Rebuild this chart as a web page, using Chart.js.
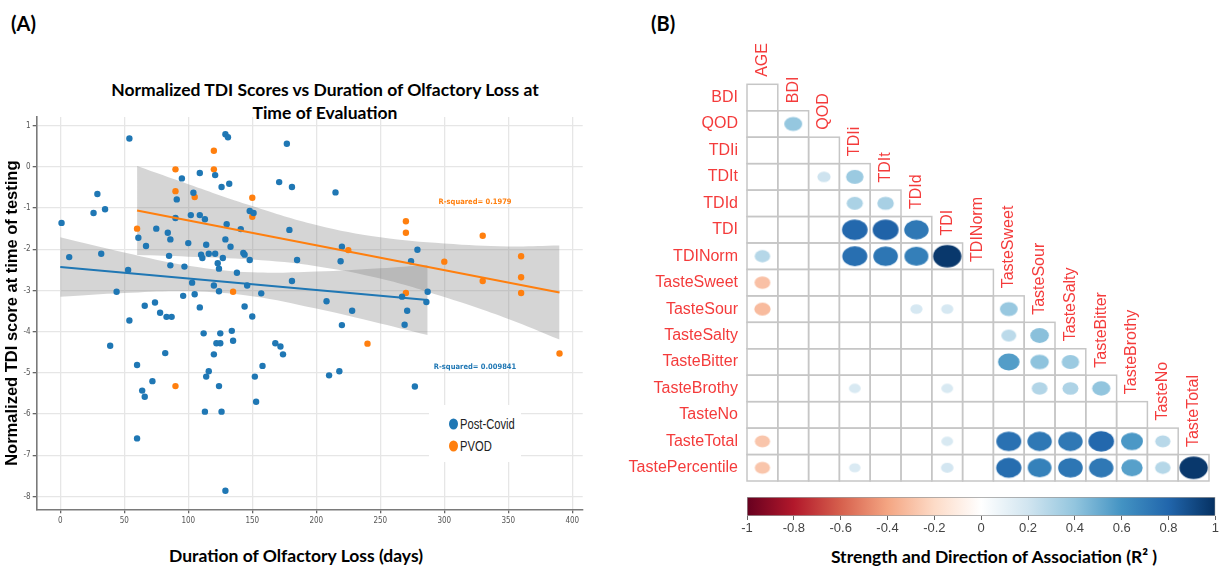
<!DOCTYPE html>
<html>
<head>
<meta charset="utf-8">
<script src="https://cdn.jsdelivr.net/npm/chart.js@4.4.0/dist/chart.umd.min.js"></script>
<style>
  html, body { margin: 0; padding: 0; background: #fff; }
  #wrap { position: relative; width: 1220px; height: 566px; overflow: hidden; }
  canvas { position: absolute; }
  .txt { position: absolute; white-space: nowrap; font-family: Lato, "Open Sans", sans-serif; font-weight: bold; color: #000; transform: translate(-50%, -50%); }
  .panel { position: absolute; font-family: Lato, "Open Sans", sans-serif; font-weight: bold; font-size: 20px; color: #000; transform: translateY(-50%); }
  #legend { position: absolute; left: 429px; top: 405px; width: 92px; height: 57px; background: #fff; }
  #legend .row { position: absolute; left: 31px; white-space: nowrap; font-family: "Liberation Sans", Arial, sans-serif; font-size: 14px; color: #222; transform: translateY(-50%) scaleX(0.8); transform-origin: left center; }
  #legend .dot { position: absolute; width: 9px; height: 11px; border-radius: 50%; left: 20px; transform: translateY(-50%); }
</style>
</head>
<body>
<div id="wrap">
  <div class="panel" style="left:11px;top:23px;">(A)</div>
  <div class="panel" style="left:651px;top:23px;">(B)</div>
  <div class="txt" style="left:325px;top:89px;font-size:17.5px;">Normalized TDI Scores vs Duration of Olfactory Loss at</div>
  <div class="txt" style="left:325px;top:112px;font-size:17.5px;">Time of Evaluation</div>
  <div class="txt" style="left:296px;top:555px;font-size:17.5px;">Duration of Olfactory Loss (days)</div>
  <div class="txt" style="left:994px;top:556px;font-size:17.5px;">Strength and Direction of Association (R² )</div>

  <canvas id="scatter" width="600" height="566" style="left:0;top:0;"></canvas>
  <div id="legend">
    <span class="dot" style="background:#1f77b4;top:19px;"></span>
    <div class="row" style="top:19px;">Post-Covid</div>
    <span class="dot" style="background:#ff7f0e;top:41px;"></span>
    <div class="row" style="top:41px;">PVOD</div>
  </div>
  <canvas id="corr" width="600" height="492" style="left:620px;top:0;"></canvas>
  <canvas id="cbar" width="480" height="76" style="left:740px;top:490px;"></canvas>
</div>

<script>
// ---- panel A data ----
const covidDays = [1, 54, 129, 131, 177, 95, 109, 121, 126, 132, 171, 181, 215, 29, 26, 35, 91, 104, 90, 102,
  109, 113, 130, 141, 148, 151, 179, 75, 84, 86, 61, 67, 100, 129, 114, 133, 220, 279, 7, 32,
  85, 110, 111, 116, 121, 127, 143, 144, 148, 185, 219, 274, 53, 86, 97, 123, 124, 138, 103, 120,
  146, 181, 44, 105, 124, 157, 96, 208, 267, 287, 286, 66, 74, 109, 144, 228, 271, 78, 83, 87,
  150, 54, 134, 112, 125, 220, 269, 135, 122, 125, 39, 168, 172, 174, 82, 120, 60, 158, 116, 114,
  152, 210, 218, 72, 124, 277, 64, 66, 153, 113, 126, 60, 129];
const covidScores = [-1.36, 0.69, 0.79, 0.72, 0.56, -0.28, -0.15, -0.20, -0.49, -0.41, -0.37, -0.49, -0.62, -0.66, -1.12, -1.03, -0.79, -0.63, -1.24, -1.17,
  -1.17, -1.27, -1.39, -1.51, -1.07, -1.12, -1.53, -1.50, -1.60, -1.76, -1.72, -1.92, -1.85, -1.76, -1.89, -1.94, -1.94, -2.01, -2.19, -2.11,
  -2.16, -2.13, -2.21, -2.11, -2.11, -2.21, -2.09, -2.13, -2.26, -2.26, -2.29, -2.29, -2.50, -2.39, -2.42, -2.34, -2.47, -2.57, -2.81, -2.88,
  -2.88, -2.77, -3.03, -3.09, -3.02, -3.07, -3.13, -3.26, -3.15, -3.03, -3.28, -3.37, -3.29, -3.41, -3.39, -3.49, -3.49, -3.54, -3.64, -3.64,
  -3.63, -3.73, -3.98, -4.04, -4.04, -3.84, -3.83, -4.22, -4.28, -4.28, -4.34, -4.28, -4.36, -4.55, -4.52, -4.55, -4.81, -4.83, -4.96, -5.09,
  -5.09, -5.06, -4.96, -5.20, -5.32, -5.33, -5.43, -5.58, -5.70, -5.94, -5.94, -6.59, -7.86];

const pvodDays = [120, 90, 120, 90, 105, 150, 150, 60, 270, 270, 330, 225, 300, 360, 330, 360, 360, 270, 135, 240, 390, 90];
const pvodScores = [0.39, -0.06, -0.06, -0.59, -0.73, -0.75, -1.21, -1.50, -1.32, -1.60, -1.67, -2.02, -2.30, -2.17, -2.77, -2.68, -3.06, -3.06, -3.03, -4.29, -4.53, -5.32];

const covidFitDays = [0, 287];
const covidFit = [-2.43, -3.23];
const covidBandDays = [0, 50, 100, 150, 200, 250, 287];
const covidBandUpper = [-1.71, -2.08, -2.40, -2.56, -2.54, -2.46, -2.38];
const covidBandLower = [-3.15, -3.06, -3.02, -3.14, -3.44, -3.80, -4.08];

const pvodFitDays = [60, 390];
const pvodFit = [-1.06, -3.05];
const pvodBandDays = [60, 100, 150, 200, 250, 300, 350, 390];
const pvodBandUpper = [0.02, -0.42, -0.95, -1.41, -1.71, -1.86, -1.93, -1.91];
const pvodBandLower = [-2.14, -2.18, -2.25, -2.41, -2.71, -3.16, -3.69, -4.19];

const xTicks = [0, 50, 100, 150, 200, 250, 300, 350, 400];
const yTicks = [-8, -7, -6, -5, -4, -3, -2, -1, 0, 1];

const covidRsq = { text: 'R-squared= 0.009841', day: 324, score: -4.85 };
const pvodRsq = { text: 'R-squared= 0.1979', day: 324, score: -0.86 };

// ---- panel B data ----
const rowLabels = ['BDI', 'QOD', 'TDIi', 'TDIt', 'TDId', 'TDI', 'TDINorm', 'TasteSweet', 'TasteSour',
  'TasteSalty', 'TasteBitter', 'TasteBrothy', 'TasteNo', 'TasteTotal', 'TastePercentile'];
const colLabels = ['AGE', 'BDI', 'QOD', 'TDIi', 'TDIt', 'TDId', 'TDI', 'TDINorm', 'TasteSweet',
  'TasteSour', 'TasteSalty', 'TasteBitter', 'TasteBrothy', 'TasteNo', 'TasteTotal'];
// lower triangle, row i has columns 0..i; 0 = not shown
const corrMatrix = [
  [0],
  [0, 0.39],
  [0, 0, 0],
  [0, 0, 0.21, 0.37],
  [0, 0, 0, 0.32, 0.33],
  [0, 0, 0, 0.79, 0.81, 0.72],
  [0.29, 0, 0, 0.76, 0.73, 0.69, 0.97],
  [-0.30, 0, 0, 0, 0, 0, 0, 0],
  [-0.32, 0, 0, 0, 0, 0.18, 0.18, 0, 0.38],
  [0, 0, 0, 0, 0, 0, 0, 0, 0.27, 0.42],
  [0, 0, 0, 0, 0, 0, 0, 0, 0.56, 0.41, 0.37],
  [0, 0, 0, 0.17, 0, 0, 0.17, 0, 0, 0.30, 0.31, 0.40],
  [0, 0, 0, 0, 0, 0, 0, 0, 0, 0, 0, 0, 0],
  [-0.28, 0, 0, 0, 0, 0, 0.17, 0, 0.75, 0.72, 0.72, 0.79, 0.58, 0.28],
  [-0.28, 0, 0, 0.16, 0, 0, 0.19, 0, 0.77, 0.68, 0.73, 0.72, 0.55, 0.29, 0.97]
];
const cbarTicks = [-1, -0.8, -0.6, -0.4, -0.2, 0, 0.2, 0.4, 0.6, 0.8, 1];
const rdbu = ['#67001F', '#B2182B', '#D6604D', '#F4A582', '#FDDBC7', '#FFFFFF',
  '#D1E5F0', '#92C5DE', '#4393C3', '#2166AC', '#053061'];

const BLUE = '#1f77b4';
const ORANGE = '#ff7f0e';
const BAND = 'rgba(127,127,127,0.33)';
const RED_TXT = '#f43b3b';
const NARROW = '"Liberation Sans Narrow", "DejaVu Sans Condensed", sans-serif';
const ARIAL = '"Liberation Sans", Arial, sans-serif';

const toXY = (xs, ys) => xs.map((x, i) => ({ x, y: ys[i] }));

// ---------------- panel A ----------------
const rsqPlugin = {
  id: 'rsq',
  afterDatasetsDraw(chart) {
    const { ctx, scales: { x, y } } = chart;
    ctx.save();
    ctx.font = 'bold 7.5px ' + NARROW;
    ctx.textAlign = 'center';
    ctx.textBaseline = 'middle';
    ctx.fillStyle = ORANGE;
    ctx.fillText(pvodRsq.text, x.getPixelForValue(pvodRsq.day), y.getPixelForValue(pvodRsq.score));
    ctx.fillStyle = BLUE;
    ctx.fillText(covidRsq.text, x.getPixelForValue(covidRsq.day), y.getPixelForValue(covidRsq.score));
    ctx.restore();
  }
};

function bandLine(xs, ys, fill) {
  return {
    type: 'line', data: toXY(xs, ys), borderWidth: 0, pointRadius: 0,
    tension: 0.4, fill: fill, backgroundColor: BAND, order: 5,
  };
}

new Chart(document.getElementById('scatter'), {
  type: 'scatter',
  data: {
    datasets: [
      bandLine(covidBandDays, covidBandUpper, false),
      bandLine(covidBandDays, covidBandLower, '-1'),
      bandLine(pvodBandDays, pvodBandUpper, false),
      bandLine(pvodBandDays, pvodBandLower, '-1'),
      { label: 'Post-Covid', data: toXY(covidDays, covidScores), backgroundColor: BLUE, pointRadius: 3.2, pointBorderWidth: 0, order: 3 },
      { label: 'PVOD', data: toXY(pvodDays, pvodScores), backgroundColor: ORANGE, pointRadius: 3.2, pointBorderWidth: 0, order: 3 },
      { type: 'line', data: toXY(covidFitDays, covidFit), borderColor: BLUE, borderWidth: 2, pointRadius: 0, fill: false, order: 1 },
      { type: 'line', data: toXY(pvodFitDays, pvodFit), borderColor: ORANGE, borderWidth: 2, pointRadius: 0, fill: false, order: 1 },
    ],
  },
  options: {
    responsive: false,
    animation: false,
    layout: { padding: { top: 117, right: 17.3, bottom: 0, left: 0 } },
    plugins: { legend: { display: false }, tooltip: { enabled: false } },
    scales: {
      x: {
        type: 'linear', min: -18.4, max: 408.1,
        afterBuildTicks: s => { s.ticks = xTicks.map(v => ({ value: v })); },
        afterFit: s => { s.height = 56.7; },
        grid: { color: '#e6e6e6', lineWidth: 1.3, tickColor: '#666', tickLength: 4 },
        border: { color: '#7a7a7a', width: 1.6 },
        ticks: { font: { family: NARROW, size: 8 }, color: '#555', padding: 3, maxRotation: 0 },
      },
      y: {
        type: 'linear', min: -8.31, max: 1.21,
        afterBuildTicks: s => { s.ticks = yTicks.map(v => ({ value: v })); },
        afterFit: s => { s.width = 36.7; },
        grid: { color: '#e6e6e6', lineWidth: 1.3, tickColor: '#666', tickLength: 4 },
        border: { color: '#7a7a7a', width: 1.6 },
        ticks: { font: { family: NARROW, size: 8 }, color: '#555', padding: 2 },
        title: {
          display: true, text: 'Normalized TDI score at time of testing', color: '#000',
          font: { family: ARIAL, size: 16.5, weight: 'bold' },
          padding: { top: 2.5, bottom: 0 },
        },
      },
    },
  },
  plugins: [rsqPlugin],
});

// ---------------- panel B ----------------
function hexToRgb(h) {
  return [parseInt(h.slice(1, 3), 16), parseInt(h.slice(3, 5), 16), parseInt(h.slice(5, 7), 16)];
}
function corrColor(v) {
  const t = (v + 1) / 2 * (rdbu.length - 1);
  const i = Math.min(Math.floor(t), rdbu.length - 2);
  const f = t - i;
  const a = hexToRgb(rdbu[i]), b = hexToRgb(rdbu[i + 1]);
  const c = a.map((ch, k) => Math.round(ch + (b[k] - ch) * f));
  return `rgb(${c[0]},${c[1]},${c[2]})`;
}

const styleCache = {};
function bubbleStyle(v) {
  const key = v.toFixed(3);
  if (styleCache[key]) return styleCache[key];
  const s = Math.sqrt(Math.abs(v));
  const rx = 14.4 * s, ry = 11.4 * s;
  const c = document.createElement('canvas');
  c.width = Math.ceil(rx * 2) + 2;
  c.height = Math.ceil(ry * 2) + 2;
  const g = c.getContext('2d');
  g.fillStyle = corrColor(v);
  g.beginPath();
  g.ellipse(c.width / 2, c.height / 2, rx, ry, 0, 0, Math.PI * 2);
  g.fill();
  styleCache[key] = c;
  return c;
}

const corrPoints = [];
corrMatrix.forEach((row, i) => row.forEach((v, j) => {
  if (v !== 0) corrPoints.push({ x: j, y: i, v: v });
}));

const cellsPlugin = {
  id: 'cells',
  beforeDatasetsDraw(chart) {
    const { ctx, scales: { x, y } } = chart;
    ctx.save();
    ctx.strokeStyle = '#c6c6c6';
    ctx.lineWidth = 1.5;
    corrMatrix.forEach((row, i) => row.forEach((v, j) => {
      const x0 = x.getPixelForValue(j - 0.5), x1 = x.getPixelForValue(j + 0.5);
      const y0 = y.getPixelForValue(i - 0.5), y1 = y.getPixelForValue(i + 0.5);
      ctx.strokeRect(x0, y0, x1 - x0, y1 - y0);
    }));
    ctx.restore();
  },
  afterDraw(chart) {
    const { ctx, scales: { x, y } } = chart;
    ctx.save();
    ctx.font = '16px ' + ARIAL;
    ctx.fillStyle = RED_TXT;
    ctx.textAlign = 'left';
    ctx.textBaseline = 'middle';
    colLabels.forEach((lab, j) => {
      ctx.save();
      ctx.translate(x.getPixelForValue(j), y.getPixelForValue(j - 0.5) - 7.5);
      ctx.rotate(-Math.PI / 2);
      ctx.fillText(lab, 0, 0);
      ctx.restore();
    });
    ctx.restore();
  }
};

new Chart(document.getElementById('corr'), {
  type: 'scatter',
  data: {
    datasets: [{
      data: corrPoints,
      pointStyle: ctx => bubbleStyle(ctx.raw.v),
      pointRadius: 10,
    }],
  },
  options: {
    responsive: false,
    animation: false,
    layout: { padding: { top: 84.3, right: 2, bottom: 2.7, left: 0 } },
    plugins: { legend: { display: false }, tooltip: { enabled: false } },
    scales: {
      x: { type: 'linear', min: -0.5, max: 14.5, display: false },
      y: {
        type: 'linear', min: -0.5, max: 14.5, reverse: true,
        afterBuildTicks: s => { s.ticks = rowLabels.map((_, i) => ({ value: i })); },
        afterFit: s => { s.width = 127; },
        grid: { display: false },
        border: { display: false },
        ticks: {
          autoSkip: false, padding: 1, color: RED_TXT,
          font: { family: ARIAL, size: 16 },
          callback: v => rowLabels[v],
        },
      },
    },
  },
  plugins: [cellsPlugin],
});

// ---------------- colour bar ----------------
new Chart(document.getElementById('cbar'), {
  type: 'bar',
  data: {
    labels: [''],
    datasets: [{
      data: [[-1, 1]],
      backgroundColor: ctx => {
        const { chart } = ctx;
        const area = chart.chartArea;
        if (!area) return '#fff';
        const g = chart.ctx.createLinearGradient(area.left, 0, area.right, 0);
        rdbu.forEach((c, k) => g.addColorStop(k / (rdbu.length - 1), c));
        return g;
      },
      borderColor: '#9a9a9a',
      borderWidth: 1,
      borderSkipped: false,
      barPercentage: 1,
      categoryPercentage: 1,
    }],
  },
  options: {
    indexAxis: 'y',
    responsive: false,
    animation: false,
    layout: { padding: { top: 7, right: 3, bottom: 0, left: 7 } },
    plugins: { legend: { display: false }, tooltip: { enabled: false } },
    scales: {
      y: { display: false },
      x: {
        type: 'linear', min: -1, max: 1,
        afterBuildTicks: s => { s.ticks = cbarTicks.map(v => ({ value: v })); },
        afterFit: s => { s.height = 50; },
        grid: { drawOnChartArea: false, tickLength: 4, tickColor: '#666' },
        border: { display: false },
        ticks: {
          color: '#444', padding: 1, maxRotation: 0,
          font: { family: ARIAL, size: 13 },
          callback: v => String(v),
        },
      },
    },
  },
});
</script>
</body>
</html>
